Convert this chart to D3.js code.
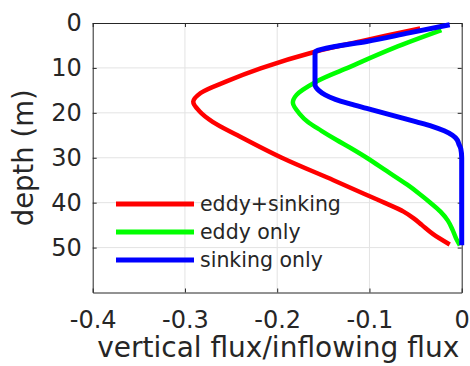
<!DOCTYPE html>
<html>
<head>
<meta charset="utf-8">
<script src="https://cdn.jsdelivr.net/npm/d3@7"></script>
<style>
  html, body { margin: 0; padding: 0; background: #fff; }
  svg { display: block; font-family: "DejaVu Sans", sans-serif; }
</style>
</head>
<body>
<svg id="chart" width="470" height="366"></svg>
<script>
// tick labels
const xTicks = [-0.4, -0.3, -0.2, -0.1, 0];
const yTicks = [0, 10, 20, 30, 40, 50];

// eddy+sinking
const redDepth = [1.2, 4.1, 6.4, 10.1, 13, 15.6, 17.5, 19.7, 22, 25, 30, 35, 38, 40, 42, 43.5, 45, 47, 49.3];
const redFlux  = [-0.045, -0.110, -0.159, -0.218, -0.255, -0.283, -0.291, -0.284, -0.270, -0.243, -0.195, -0.139, -0.106, -0.084, -0.063, -0.052, -0.043, -0.031, -0.013];

// eddy only
const greenDepth = [1.6, 5.6, 10.1, 13, 16, 17.8, 20.4, 22, 24, 26, 28, 30, 33, 36, 38, 40, 42, 44, 46, 48, 49.5];
const greenFlux  = [-0.022, -0.074, -0.125, -0.157, -0.179, -0.183, -0.175, -0.167, -0.152, -0.136, -0.119, -0.103, -0.081, -0.059, -0.046, -0.034, -0.023, -0.015, -0.010, -0.006, -0.002];

// sinking only
const blueDepth = [0.4, 2.2, 4.1, 5.3, 6.1, 6.5, 13.8, 15, 16, 17, 18, 19, 20, 21, 22, 23, 24, 25, 26, 27, 28, 30, 49.5];
const blueFlux  = [-0.013, -0.057, -0.103, -0.139, -0.156, -0.159, -0.159, -0.155, -0.148, -0.137, -0.121, -0.103, -0.085, -0.067, -0.049, -0.032, -0.019, -0.010, -0.005, -0.003, -0.001, 0, 0];

const seriesNames = ["eddy+sinking", "eddy only", "sinking only"];
const seriesColors = ["#ff0000", "#00ff00", "#0000ff"];

const series = [
  { depth: redDepth, flux: redFlux, curve: d3.curveCatmullRom.alpha(0.5) },
  { depth: greenDepth, flux: greenFlux, curve: d3.curveCatmullRom.alpha(0.5) },
  // blue has sharp corners, keep it monotone so nothing overshoots
  { depth: blueDepth, flux: blueFlux, curve: d3.curveMonotoneY },
];

const svg = d3.select("#chart");
const mLeft = 92.7, mRight = 461.7, mTop = 23, mBottom = 292.5;
const axisColor = "#262626";

const x = d3.scaleLinear().domain([-0.4, 0]).range([mLeft, mRight]);
const y = d3.scaleLinear().domain([0, 60]).range([mTop, mBottom]);

// grid
const grid = svg.append("g").attr("stroke", "#e3e3e3").attr("stroke-width", 1);
xTicks.slice(1, -1).forEach(t => {
  grid.append("line").attr("x1", x(t)).attr("x2", x(t)).attr("y1", mTop).attr("y2", mBottom);
});
yTicks.slice(1).forEach(t => {
  grid.append("line").attr("x1", mLeft).attr("x2", mRight).attr("y1", y(t)).attr("y2", y(t));
});

// axes (box with inward ticks on every side)
const tickLen = 4;
const xFmt = d => d === 0 ? "0" : d3.format(".1f")(d).replace("−", "-");

const axB = svg.append("g").attr("transform", `translate(0,${mBottom})`)
  .call(d3.axisBottom(x).tickValues(xTicks).tickSizeInner(-tickLen).tickSizeOuter(0).tickPadding(18).tickFormat(xFmt));
const axT = svg.append("g").attr("transform", `translate(0,${mTop})`)
  .call(d3.axisTop(x).tickValues(xTicks).tickSizeInner(-tickLen).tickSizeOuter(0).tickFormat(""));
const axL = svg.append("g").attr("transform", `translate(${mLeft},0)`)
  .call(d3.axisLeft(y).tickValues(yTicks).tickSizeInner(-tickLen).tickSizeOuter(0).tickPadding(11));
const axR = svg.append("g").attr("transform", `translate(${mRight},0)`)
  .call(d3.axisRight(y).tickValues(yTicks).tickSizeInner(-tickLen).tickSizeOuter(0).tickFormat(""));

[axB, axT, axL, axR].forEach(a => {
  a.select(".domain").attr("stroke", axisColor).attr("stroke-width", 1);
  a.selectAll(".tick line").attr("stroke", axisColor);
  a.selectAll(".tick text").attr("fill", axisColor).style("font-size", "24px")
    .style("font-family", "DejaVu Sans, sans-serif");
});
axB.selectAll(".tick text").attr("dy", "0.71em");

// curves
series.forEach((s, k) => {
  const line = d3.line()
    .x(d => x(d[1]))
    .y(d => y(d[0]))
    .curve(s.curve);
  const pts = s.depth.map((dp, i) => [dp, s.flux[i]]);
  svg.append("path")
    .datum(pts)
    .attr("fill", "none")
    .attr("stroke", seriesColors[k])
    .attr("stroke-width", k === 2 ? 5 : 4.5)
    .attr("stroke-linejoin", "round")
    .attr("d", line);
});

// legend (no box)
const legG = svg.append("g");
seriesNames.forEach((name, k) => {
  const ly = 204 + k * 28;
  legG.append("line")
    .attr("x1", 116).attr("x2", 194).attr("y1", ly).attr("y2", ly)
    .attr("stroke", seriesColors[k]).attr("stroke-width", 5);
  legG.append("text")
    .attr("x", 200).attr("y", ly).attr("dy", "0.35em")
    .attr("fill", axisColor).style("font-size", "20.5px")
    .text(name);
});

// axis labels
svg.append("text")
  .attr("x", (mLeft + mRight) / 2 + 1).attr("y", 357)
  .attr("text-anchor", "middle")
  .attr("fill", axisColor).style("font-size", "28px")
  .text("vertical flux/inflowing flux");

svg.append("text")
  .attr("transform", `translate(33,${(mTop + mBottom) / 2}) rotate(-90)`)
  .attr("text-anchor", "middle")
  .attr("fill", axisColor).style("font-size", "27.5px")
  .text("depth (m)");
</script>
</body>
</html>
